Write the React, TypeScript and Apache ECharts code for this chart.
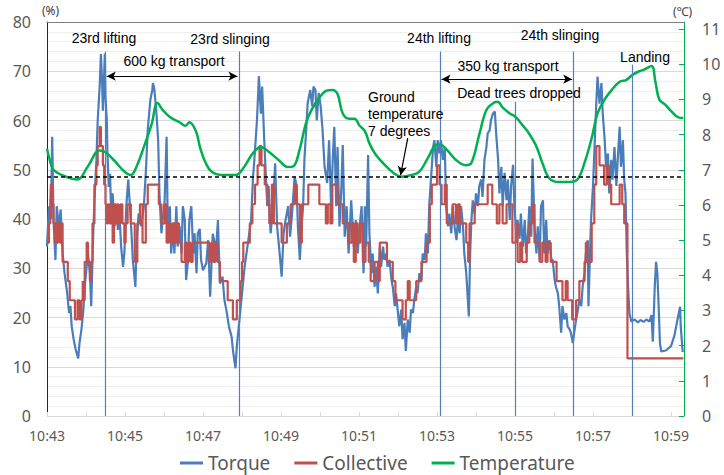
import React, { useEffect, useRef } from "react";
import * as echarts from "echarts";

// time axis: seconds after 10:43:00
const timeLabels = ["10:43", "10:45", "10:47", "10:49", "10:51", "10:53", "10:55", "10:57", "10:59"];

const torque: [number, number][] = [
  [0,34.4],[3,42.6],[6,40],[8,56.7],[10,39.8],[13,31.7],[15,42.6],[18,38.5],[21,41.9],[24,33.1],[27,29],[31,25],[34,20.9],[36,22.3],[38,18.2],[41,15.6],[44,13.6],[48,11.7],[50,14.8],[53,17.6],[56,21.6],[58,26.2],[61,30.3],[63,33],[66,29],[68,22.3],[71,36.4],[73,43.8],[76,51.9],[78,60],[81,66.9],[83,73.5],[85,66.9],[86,62],[89,73.6],[90,64.8],[92,60],[93,53.3],[95,46.5],[97,49.2],[99,39.8],[101,45.2],[104,38.5],[107,42.6],[109,37.8],[112,39.8],[114,34.4],[117,30.3],[119,33],[122,42.6],[125,48],[127,43.8],[130,37.1],[132,31.7],[136,26.2],[138,35.7],[141,41.1],[145,38.5],[149,42.6],[152,49.4],[155,58.1],[159,64.2],[162,66.2],[163,67.6],[165,66.5],[168,62.2],[171,56],[173,45.2],[176,37.1],[178,39.8],[181,43.8],[184,56.7],[186,35.7],[189,42.6],[191,33],[194,38.5],[196,33],[199,42.6],[201,34.4],[204,38.5],[207,33],[209,42.6],[212,39.8],[214,27.6],[217,31.7],[219,39.8],[222,42.6],[225,33],[227,37.1],[230,29],[232,37.1],[235,38],[237,31.7],[240,29.6],[245,31],[248,35.7],[251,24.2],[255,37],[260,33.7],[263,39.8],[266,26.9],[270,28.3],[273,23.5],[276,21.5],[280,18.1],[284,16.1],[286,13.4],[290,9.7],[292,14.1],[295,18.1],[299,23.5],[304,30.3],[309,35],[314,39.8],[317,48.6],[319,52],[323,60],[326,69],[329,61.4],[331,66.9],[334,56.7],[336,50.6],[339,42.6],[341,46.7],[344,37.1],[348,42.6],[351,51.3],[354,38.5],[357,34.4],[361,28.3],[364,37.1],[367,39.8],[371,42.6],[374,36.4],[377,41.1],[381,48.6],[384,46.7],[386,38.5],[389,31.7],[391,37.1],[394,42.6],[396,52],[399,58.7],[401,63.5],[405,66.2],[408,62.9],[410,66.9],[413,66.2],[415,60],[418,65.6],[421,62.9],[424,58],[427,50.6],[431,47.3],[434,56],[437,42.6],[440,53.3],[442,58.7],[445,42.6],[447,54.6],[450,38.5],[453,46.7],[455,55],[458,36.4],[461,42.6],[464,33],[468,43.8],[472,34.4],[475,39.8],[478,33],[481,38.5],[484,42.6],[487,29],[489,42.6],[491,34.4],[494,53],[496,37.1],[499,29],[501,33],[504,26.2],[506,30.3],[509,24.9],[512,34.4],[514,30.3],[517,34.4],[519,31.7],[522,33],[524,30.3],[527,31.7],[530,27.6],[532,26.2],[535,22.3],[537,24.9],[540,20.9],[542,18.2],[545,21.6],[547,15.6],[550,18.9],[552,13.2],[555,19.6],[558,16.9],[560,21.6],[563,20.9],[565,23.6],[568,26.2],[570,24.9],[573,29],[576,27.6],[578,33],[581,31.7],[583,37.1],[586,33],[588,42.6],[591,48.6],[594,54.6],[596,56],[599,50.6],[601,56],[604,53.3],[606,56],[609,52],[612,54.6],[614,42.6],[617,38.5],[619,41.1],[622,37.1],[624,42.6],[627,38.5],[630,35.7],[632,39.8],[635,37.1],[637,42.6],[640,38.5],[642,33],[645,29],[649,20.2],[651,33],[653,39.8],[655,43.8],[658,41.1],[660,45.2],[663,42.6],[665,46.7],[668,48],[670,44.5],[673,52],[676,54.6],[678,57.4],[681,58],[683,60],[686,61.4],[689,61.8],[691,57.4],[694,52],[696,45.2],[699,50.6],[701,42.6],[704,49.4],[707,43.8],[709,48],[712,39.8],[714,46.7],[717,51],[719,42.6],[722,37.1],[724,39.8],[727,36],[729,41.1],[732,34.4],[735,39.8],[737,33],[740,37.1],[742,42.6],[745,36.4],[747,52.3],[750,38.5],[753,33],[755,38.5],[758,31.7],[760,42.6],[763,43.8],[765,33],[768,39.8],[770,33],[773,35.7],[776,31.7],[778,31.7],[781,27.6],[783,26.2],[786,24.9],[788,22.3],[791,16.9],[793,22.3],[796,19.6],[799,20.9],[801,18.2],[804,17.6],[806,16.9],[809,14.8],[811,16.9],[814,19.6],[816,20.9],[819,23.6],[822,22.3],[824,26.2],[827,29],[829,33],[832,35.7],[833,22.3],[836,35.7],[837,39.8],[840,46.7],[842,53.3],[845,63.4],[847,68.9],[850,63.4],[853,67.6],[855,61.4],[858,56],[860,50.6],[863,53.3],[865,45.2],[868,52],[870,48],[873,54.6],[876,46.7],[878,52],[881,58.7],[883,50.6],[886,56],[888,48],[890,45.2],[892,33],[894,26.2],[896,20.9],[899,19.2],[904,19.6],[909,19],[913,19.5],[918,19.1],[922,19.6],[927,19.2],[930,20.5],[932,15.1],[935,26.2],[937,31.3],[939,29],[941,22.3],[943,14.8],[945,13.1],[952,13.3],[960,14.2],[965,16.2],[970,19.6],[974,22.2],[975,18.2],[978,13]
];

const collective: [number, number][] = [
  [0,35.2],[3,39.1],[5,43],[6,47],[8,43],[10,39.1],[12,35.2],[13,39.1],[15,35.2],[17,39.1],[20,35.2],[22,39.1],[24,31.3],[32,27.4],[35,23.5],[43,19.6],[47,23.5],[50,19.6],[53,23.5],[55,27.4],[56,23.5],[58,31.3],[61,35.2],[63,31.3],[66,27.4],[68,31.3],[70,39.1],[73,47],[76,50.9],[78,54.8],[81,58.7],[83,54.8],[86,50.9],[88,47],[90,43],[92,39.1],[94,43],[96,39.1],[99,43],[101,35.2],[103,43],[106,39.1],[108,43],[110,39.1],[113,43],[116,39.1],[119,35.2],[121,39.1],[124,43],[129,39.1],[135,31.3],[139,39.1],[143,43],[147,35.2],[152,43],[155,47],[172,43],[176,39.1],[181,43],[184,35.2],[187,39.1],[190,35.2],[193,39.1],[196,35.2],[199,39.1],[203,35.2],[207,31.3],[212,35.2],[215,31.3],[218,35.2],[221,31.3],[224,35.2],[250,31.3],[253,35.2],[256,31.3],[259,35.2],[262,31.3],[266,27.4],[278,23.5],[286,19.6],[292,23.5],[298,27.4],[300,31.3],[302,35.2],[312,39.1],[316,43],[320,47],[324,50.9],[327,54.8],[330,50.9],[335,47],[339,43],[342,39.1],[346,47],[349,39.1],[361,35.2],[369,39.1],[375,43],[381,47],[384,43],[389,35.2],[392,43],[402,47],[419,43],[429,39.1],[432,43],[436,39.1],[439,47],[447,43],[455,39.1],[465,35.2],[469,39.1],[472,31.3],[475,39.1],[478,35.2],[482,39.1],[486,31.3],[490,35.2],[495,31.3],[498,27.4],[504,31.3],[509,27.4],[512,35.2],[523,31.3],[532,27.4],[536,23.5],[547,19.6],[552,23.5],[555,27.4],[558,23.5],[568,27.4],[576,31.3],[584,35.2],[589,43],[592,47],[600,50.9],[604,47],[607,43],[612,47],[615,39.1],[624,43],[629,39.1],[632,43],[635,39.1],[645,35.2],[648,31.3],[650,39.1],[658,43],[678,47],[685,43],[692,39.1],[696,43],[701,39.1],[707,43],[716,35.2],[721,39.1],[724,31.3],[728,35.2],[731,31.3],[738,35.2],[742,39.1],[747,43],[750,35.2],[758,31.3],[762,35.2],[767,31.3],[770,35.2],[775,31.3],[784,27.4],[793,23.5],[798,27.4],[801,23.5],[808,19.6],[814,23.5],[819,27.4],[827,31.3],[829,35.2],[831,31.3],[838,39.1],[842,47],[845,54.8],[850,50.9],[857,47],[861,50.9],[864,47],[868,43],[881,47],[885,43],[888,39.1],[893,11.7],[979,11.7]
];

const temperature: [number, number][] = [
  [0,7.6],[4,7.3],[10,7.0],[23,6.85],[46,6.72],[63,7.1],[81,7.55],[90,7.5],[104,7.25],[119,6.95],[129,6.85],[138,7.1],[150,7.7],[161,8.3],[170,8.9],[178,8.7],[189,8.5],[204,8.35],[213,8.25],[219,8.35],[229,8.1],[236,7.6],[244,7.2],[253,6.95],[269,6.85],[290,6.85],[304,7.1],[316,7.45],[329,7.65],[342,7.5],[358,7.25],[370,7.08],[379,7.1],[389,7.6],[398,8.3],[407,8.7],[419,9.05],[430,9.25],[439,9.27],[447,9.15],[455,8.6],[465,8.45],[473,8.45],[481,8.25],[489,8.1],[496,7.75],[505,7.45],[519,7.15],[535,6.88],[545,6.8],[561,6.85],[573,6.95],[585,7.3],[598,7.7],[604,7.72],[616,7.55],[628,7.3],[644,7.13],[653,7.2],[665,8.0],[676,8.7],[687,8.9],[693,8.93],[702,8.75],[712,8.6],[721,8.5],[730,8.3],[739,8.1],[752,7.7],[762,7.2],[773,6.75],[788,6.65],[804,6.65],[816,6.72],[827,7.2],[838,7.9],[847,8.6],[858,9.0],[868,9.25],[881,9.5],[891,9.55],[901,9.7],[911,9.8],[919,9.85],[930,9.95],[936,9.5],[942,9.0],[951,8.85],[961,8.65],[970,8.5],[979,8.47]
];

// event markers: time (s), top of the marker line (% axis)
const eventTimes = [89, 295, 605, 720, 810, 900];
const eventTops = [74, 74, 74, 63.8, 74, 71.3];
const groundTemp = 6.8;

const FONT = "Noto Sans";
const AFONT = "Liberation Sans";

export default function App() {
  const ref = useRef<HTMLDivElement>(null);
  useEffect(() => {
    if (!ref.current) return;
    const chart = echarts.init(ref.current, undefined, { renderer: "svg" });
    const eventLines = eventTimes.map((t, i) => [
      { coord: [t, 0], symbol: "none" },
      { coord: [t, eventTops[i]], symbol: "none" },
    ]);
    const arrowStyle = { color: "#000", width: 1.2, type: "solid" };
    const arrows = [
      [
        { coord: [92, 69], symbol: "arrow", lineStyle: arrowStyle },
        { coord: [293, 69], symbol: "arrow" },
      ],
      [
        { coord: [607, 68.4], symbol: "arrow", lineStyle: arrowStyle },
        { coord: [808, 68.4], symbol: "arrow" },
      ],
      [
        { coord: [555, 56.4], symbol: "none", lineStyle: arrowStyle },
        { coord: [544, 48.9], symbol: "arrow" },
      ],
    ];
    const txt = (text: string, x: number, y: number, align = "center", vAlign = "middle") => ({
      type: "text",
      x,
      y,
      silent: true,
      style: {
        text,
        x: 0,
        y: 0,
        fill: "#000",
        font: `14px "${AFONT}"`,
        textAlign: align,
        textVerticalAlign: vAlign,
        align,
        verticalAlign: vAlign,
        lineHeight: 17,
      },
      z: 100,
    });
    const option: any = {
      animation: false,
      backgroundColor: "#fff",
      grid: { left: 47, right: 40, top: 22, bottom: 59 },
      legend: {
        data: [
          { name: "Torque", icon: "rect" },
          { name: "Collective", icon: "rect" },
          { name: "Temperature", icon: "rect" },
        ],
        left: 175,
        top: 447,
        itemWidth: 23,
        itemHeight: 3,
        itemGap: 24,
        textStyle: { fontSize: 19, color: "#595959", fontFamily: FONT, lineHeight: 22 },
      },
      xAxis: [
        {
          type: "value",
          min: 0,
          max: 980,
          interval: 60,
          axisLine: { show: true, onZero: false, lineStyle: { color: "#d9d9d9", width: 1 } },
          axisTick: { show: true, inside: true, length: 4, lineStyle: { color: "#d9d9d9" } },
          axisLabel: {
            fontSize: 14,
            color: "#595959",
            fontFamily: FONT,
            margin: 12,
            showMaxLabel: false,
            formatter: (v: number) => (v % 120 === 0 ? timeLabels[v / 120] ?? "" : ""),
          },
          splitLine: { show: false },
        },
        {
          type: "value",
          position: "top",
          min: 0,
          max: 980,
          axisLine: { show: true, onZero: false, lineStyle: { color: "#7f7f7f", width: 1 } },
          axisTick: { show: false },
          axisLabel: { show: false },
          splitLine: { show: false },
        },
      ],
      yAxis: [
        {
          type: "value",
          min: 0,
          max: 80,
          interval: 10,
          axisLine: { show: true, onZero: false, lineStyle: { color: "#262626", width: 1 } },
          axisTick: { show: false },
          axisLabel: { fontSize: 16, color: "#595959", fontFamily: FONT, margin: 16 },
          splitLine: { show: true, lineStyle: { color: "#d9d9d9" } },
          minorTick: { show: false, splitNumber: 5 },
          minorSplitLine: { show: true, lineStyle: { color: "#eeeeee" } },
        },
        {
          type: "value",
          position: "right",
          min: 0,
          max: 11.2,
          interval: 1,
          axisLine: { show: true, onZero: false, lineStyle: { color: "#00b050", width: 1 } },
          axisTick: { show: true, inside: true, length: 5, lineStyle: { color: "#00b050" } },
          axisLabel: { fontSize: 16, color: "#595959", fontFamily: FONT, margin: 18, showMaxLabel: false },
          splitLine: { show: false },
        },
      ],
      series: [
        {
          name: "Torque",
          type: "line",
          data: torque,
          xAxisIndex: 0,
          yAxisIndex: 0,
          symbol: "none",
          color: "#4a7ebb",
          lineStyle: { width: 2.2, color: "#4a7ebb" },
          z: 2,
          markLine: {
            silent: true,
            symbol: ["none", "none"],
            label: { show: false },
            lineStyle: { color: "#4f81bd", width: 1.2, type: "solid" },
            data: [...eventLines, ...arrows],
            symbolSize: [7, 9],
            z: 5,
          },
        },
        {
          name: "Collective",
          type: "line",
          data: collective,
          step: "end",
          xAxisIndex: 0,
          yAxisIndex: 0,
          symbol: "none",
          color: "#c0504d",
          lineStyle: { width: 2.2, color: "#c0504d" },
          z: 3,
        },
        {
          name: "Temperature",
          type: "line",
          data: temperature,
          xAxisIndex: 0,
          yAxisIndex: 1,
          smooth: 0.4,
          symbol: "none",
          color: "#00b050",
          lineStyle: { width: 2.5, color: "#00b050" },
          z: 4,
          markLine: {
            silent: true,
            symbol: ["none", "none"],
            label: { show: false },
            lineStyle: { color: "#000", width: 1.5, type: [4, 3] },
            data: [{ yAxis: groundTemp }],
          },
        },
      ],
      graphic: [
        { type: "text", x: 42, y: 10, style: { text: "(%)", font: `12px "${FONT}"`, fill: "#404040", textVerticalAlign: "middle", verticalAlign: "middle" } },
        { type: "text", x: 673, y: 11, style: { text: "(℃)", font: `12px "${FONT}"`, fill: "#404040", textVerticalAlign: "middle", verticalAlign: "middle" } },
        txt("23rd lifting", 104, 38),
        txt("23rd slinging", 230, 39),
        txt("600 kg transport", 174, 61),
        txt("24th lifting", 439, 38),
        txt("24th slinging", 560, 35),
        txt("350 kg transport", 508, 66),
        txt("Dead trees dropped", 519, 93),
        txt("Landing", 645, 57),
        txt("Ground\ntemperature\n7 degrees", 368, 88, "left", "top"),
      ],
    };
    chart.setOption(option);
    return () => chart.dispose();
  }, []);
  return (
    <div
      ref={ref}
      style={{ position: "fixed", left: 0, top: 0, width: 724, height: 475, background: "#fff" }}
    />
  );
}
